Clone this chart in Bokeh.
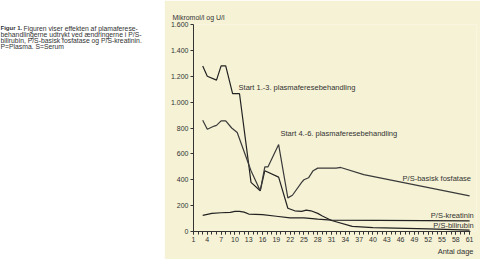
from bokeh.plotting import figure
from bokeh.models import Range1d, FixedTicker, Label, Title
from bokeh.layouts import row
from bokeh.embed import file_html
from bokeh.resources import INLINE

# ---- data ----
bili_days = [3, 4, 6, 7, 8, 9.5, 11, 13.5, 15.5, 16.5, 19.5, 21.5, 23, 24.5, 25.5, 26.5, 28, 29, 31, 35.5, 40, 52, 61]
bili_vals = [1280, 1200, 1170, 1280, 1280, 1065, 1065, 380, 315, 470, 420, 180, 160, 155, 165, 160, 140, 120, 85, 40, 30, 20, 10]

alp_days = [3, 4, 5.5, 6, 7, 8, 9.3, 10.5, 13.5, 15.5, 16.5, 17.2, 19.5, 21.5, 22.5, 24.5, 25, 26, 27, 28, 32, 33, 38, 61]
alp_vals = [860, 790, 815, 820, 855, 855, 800, 765, 470, 315, 500, 500, 672, 260, 280, 380, 400, 415, 470, 490, 490, 495, 440, 275]

krea_days = [3, 5, 7, 9, 10, 11, 12, 13, 16, 19, 22, 25, 28, 31, 61]
krea_vals = [125, 140, 145, 148, 155, 155, 150, 135, 130, 118, 105, 105, 95, 88, 82]

x_ticks = list(range(1, 62, 3))
x_minor = list(range(1, 62))
y_ticks = [0, 200, 400, 600, 800, 1000, 1200, 1400, 1600]
y_tick_labels = ["0", "200", "400", "600", "800", "1.000", "1.200", "1.400", "1.600"]

caption_lines = [
    "Figuren viser effekten af plamaferese-",
    "behandlingerne udtrykt ved ændringerne i P/S-",
    "bilirubin, P/S-basisk fosfatase og P/S-kreatinin.",
    "P=Plasma. S=Serum",
]

FONT = "Liberation Sans"
TXT = "#333333"
BG = "#f5f2d5"
FS = "7.5px"

# ---- caption panel ----
cap = figure(width=164, height=259, x_range=Range1d(0, 164), y_range=Range1d(259, 0),
             x_axis_type=None, y_axis_type=None, toolbar_location=None,
             min_border=0, outline_line_color=None, background_fill_color="white",
             border_fill_color="white", output_backend="svg")
cap.grid.visible = False
ys = [5, 12.5, 20, 27.5]
cap.add_layout(Label(x=0, y=ys[0], text="Figur 1.", text_font=FONT, text_font_size="6px",
                     text_font_style="bold", text_color=TXT, text_baseline="middle"))
for i, line in enumerate(caption_lines):
    cap.add_layout(Label(x=(23 if i == 0 else 0), y=ys[i], text=line, text_font=FONT,
                         text_font_size="6.8px", text_color=TXT, text_baseline="middle"))

# ---- chart ----
p = figure(width=316, height=259, x_range=Range1d(1, 62.5), y_range=Range1d(0, 1600),
           toolbar_location=None, output_backend="svg",
           min_border_left=29, min_border_right=4, min_border_top=24, min_border_bottom=28,
           background_fill_color=BG, border_fill_color=BG, outline_line_color=None)
p.grid.visible = False

p.line(bili_days, bili_vals, line_color="#222222", line_width=1.2)
p.line(alp_days, alp_vals, line_color="#3a3a3a", line_width=1.2)
p.line(krea_days, krea_vals, line_color="#222222", line_width=1.2)

for ax in (p.xaxis[0], p.yaxis[0]):
    ax.axis_line_color = TXT
    ax.major_tick_line_color = TXT
    ax.minor_tick_line_color = TXT
    ax.major_tick_out = 3
    ax.major_tick_in = 0
    ax.minor_tick_out = 3
    ax.minor_tick_in = 0
    ax.major_label_text_font = FONT
    ax.major_label_text_font_size = "7px"
    ax.major_label_text_color = TXT
    ax.major_label_standoff = 2

p.xaxis.ticker = FixedTicker(ticks=x_ticks, minor_ticks=x_minor)
p.xaxis.bounds = (1, 61.2)
p.yaxis.ticker = FixedTicker(ticks=y_ticks, minor_ticks=[])
p.yaxis.major_label_overrides = {v: s for v, s in zip(y_ticks, y_tick_labels)}

p.add_layout(Title(text="Mikromol/l og U/l", align="left", offset=-21, standoff=7,
                   text_font=FONT, text_font_size="7px", text_font_style="normal",
                   text_color=TXT), "above")
p.add_layout(Title(text="Antal dage", align="right", offset=3, standoff=0,
                   text_font=FONT, text_font_size=FS, text_font_style="normal",
                   text_color=TXT), "below")


def lab(x, y, t, align="left"):
    p.add_layout(Label(x=x, y=y, text=t, text_font=FONT, text_font_size=FS,
                       text_color=TXT, text_align=align, text_baseline="middle"))


lab(10.8, 1113, "Start 1.-3. plasmaferesebehandling")
lab(19.9, 757, "Start 4.-6. plasmaferesebehandling")
lab(61.3, 410, "P/S-basisk fosfatase", "right")
lab(61.9, 124, "P/S-kreatinin", "right")
lab(61.9, 48, "P/S-bilirubin", "right")

layout = row(cap, p)
open("out.html", "w").write(file_html(layout, INLINE))
